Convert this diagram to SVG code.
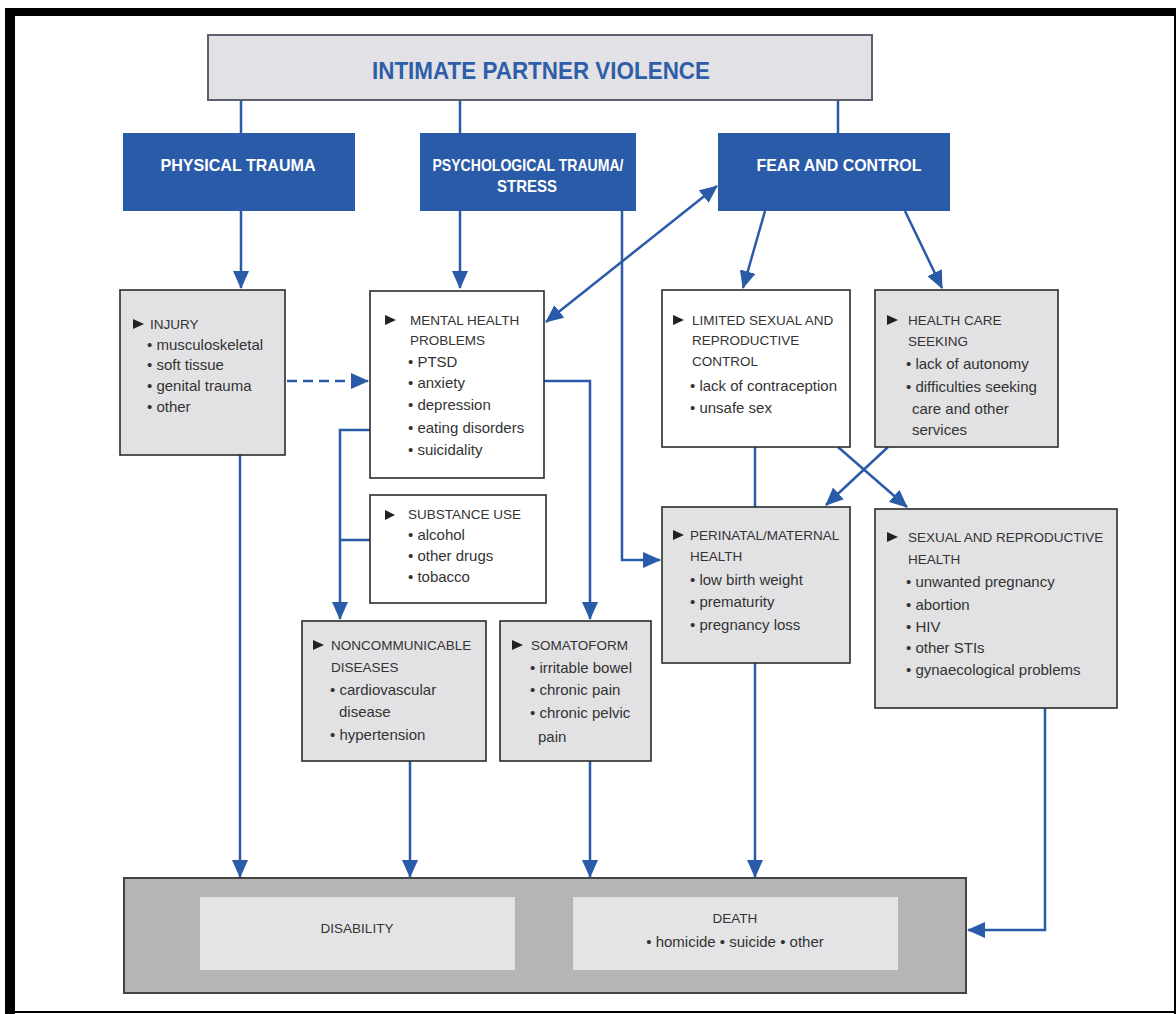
<svg xmlns="http://www.w3.org/2000/svg" width="1176" height="1014" viewBox="0 0 1176 1014">
<style>
.bx{fill:#e2e2e4;stroke:#2b2b2b;stroke-width:1.6}
.wb{fill:#ffffff;stroke:#2b2b2b;stroke-width:1.6}
.blue{fill:#2a5ba8}
.hd{font-family:"Liberation Sans",sans-serif;font-size:13.5px;fill:#333}
.tx{font-family:"Liberation Sans",sans-serif;font-size:15px;fill:#333}
.bt{font-family:"Liberation Sans",sans-serif;font-size:17px;font-weight:bold;fill:#fff}
.ln{fill:none;stroke:#2a5ba8;stroke-width:2.5}
.tri{fill:#222}
</style>
<defs>
<marker id="ah" markerUnits="userSpaceOnUse" markerWidth="18" markerHeight="16" refX="17" refY="8" orient="auto-start-reverse">
<path d="M0,0 L18,8 L0,16 z" fill="#2a5ba8"/>
</marker>
</defs>
<rect x="0" y="0" width="1176" height="1014" fill="#fff"/>
<g id="frame">
<rect x="5" y="8" width="1171" height="8" fill="#000"/>
<rect x="5" y="8" width="10" height="1006" fill="#000"/>
<rect x="15" y="1011" width="1161" height="2" fill="#000"/>
<rect x="1174" y="8" width="2" height="1006" fill="#000"/>
</g>
<g id="connectors">
<line class="ln" x1="241" y1="100" x2="241" y2="133"/>
<line class="ln" x1="460" y1="100" x2="460" y2="133"/>
<line class="ln" x1="838" y1="100" x2="838" y2="133"/>
<line class="ln" x1="241" y1="211" x2="241" y2="288" marker-end="url(#ah)"/>
<line class="ln" x1="460" y1="211" x2="460" y2="288" marker-end="url(#ah)"/>
<line class="ln" x1="765" y1="211" x2="743" y2="288" marker-end="url(#ah)"/>
<line class="ln" x1="905" y1="211" x2="942" y2="288" marker-end="url(#ah)"/>
<line class="ln" x1="546" y1="322" x2="717" y2="186" marker-start="url(#ah)" marker-end="url(#ah)"/>
<line class="ln" x1="287" y1="381" x2="368" y2="381" stroke-dasharray="10,6" marker-end="url(#ah)"/>
<polyline class="ln" points="622,211 622,560 660,560" marker-end="url(#ah)"/>
<polyline class="ln" points="370,430 340,430 340,619" marker-end="url(#ah)"/>
<line class="ln" x1="370" y1="540" x2="340" y2="540"/>
<polyline class="ln" points="544,381 590,381 590,619" marker-end="url(#ah)"/>
<line class="ln" x1="838" y1="447" x2="907" y2="507" marker-end="url(#ah)"/>
<line class="ln" x1="888" y1="447" x2="826" y2="505" marker-end="url(#ah)"/>
<line class="ln" x1="755" y1="447" x2="755" y2="507"/>
<line class="ln" x1="240" y1="455" x2="240" y2="877" marker-end="url(#ah)"/>
<line class="ln" x1="410" y1="761" x2="410" y2="877" marker-end="url(#ah)"/>
<line class="ln" x1="590" y1="761" x2="590" y2="877" marker-end="url(#ah)"/>
<line class="ln" x1="755" y1="663" x2="755" y2="877" marker-end="url(#ah)"/>
<polyline class="ln" points="1045,708 1045,930 968,930" marker-end="url(#ah)"/>
</g>
<g id="ipv">
<rect x="208" y="35" width="664" height="65" fill="#e2e2e6" stroke="#5a6070" stroke-width="2"/>
<text x="541" y="79" text-anchor="middle" font-family="Liberation Sans,sans-serif" font-size="23" font-weight="bold" fill="#2f5ea8" textLength="338" lengthAdjust="spacingAndGlyphs">INTIMATE PARTNER VIOLENCE</text>
</g>
<g id="physical">
<rect class="blue" x="123" y="133" width="232" height="78"/>
<text class="bt" x="238" y="171" text-anchor="middle" textLength="155" lengthAdjust="spacingAndGlyphs">PHYSICAL TRAUMA</text>
</g>
<g id="psych">
<rect class="blue" x="420" y="133" width="216" height="78"/>
<text class="bt" x="528" y="171" text-anchor="middle" textLength="191" lengthAdjust="spacingAndGlyphs">PSYCHOLOGICAL TRAUMA/</text>
<text class="bt" x="527" y="192" text-anchor="middle" textLength="60" lengthAdjust="spacingAndGlyphs">STRESS</text>
</g>
<g id="fear">
<rect class="blue" x="718" y="133" width="232" height="78"/>
<text class="bt" x="839" y="171" text-anchor="middle" textLength="165" lengthAdjust="spacingAndGlyphs">FEAR AND CONTROL</text>
</g>
<g id="injury">
<rect class="bx" x="120" y="290" width="165" height="165"/>
<path class="tri" d="M133,319 L144,324 L133,329 z"/>
<text class="hd" x="150" y="329">INJURY</text>
<text class="tx" x="147" y="350">• musculoskeletal</text>
<text class="tx" x="147" y="370">• soft tissue</text>
<text class="tx" x="147" y="391">• genital trauma</text>
<text class="tx" x="147" y="412">• other</text>
</g>
<g id="mental">
<rect class="wb" x="370" y="291" width="174" height="187"/>
<path class="tri" d="M385,315 L396,320 L385,325 z"/>
<text class="hd" x="410" y="325">MENTAL HEALTH</text>
<text class="hd" x="410" y="345">PROBLEMS</text>
<text class="tx" x="408" y="367">• PTSD</text>
<text class="tx" x="408" y="388">• anxiety</text>
<text class="tx" x="408" y="410">• depression</text>
<text class="tx" x="408" y="433">• eating disorders</text>
<text class="tx" x="408" y="455">• suicidality</text>
</g>
<g id="substance">
<rect class="wb" x="370" y="495" width="176" height="108"/>
<path class="tri" d="M385,510 L395,515 L385,520 z"/>
<text class="hd" x="408" y="519" font-size="12">SUBSTANCE USE</text>
<text class="tx" x="408" y="540">• alcohol</text>
<text class="tx" x="408" y="561">• other drugs</text>
<text class="tx" x="408" y="582">• tobacco</text>
</g>
<g id="ncd">
<rect class="bx" x="302" y="621" width="184" height="140"/>
<path class="tri" d="M313,640 L324,645 L313,650 z"/>
<text class="hd" x="331" y="650">NONCOMMUNICABLE</text>
<text class="hd" x="331" y="672">DISEASES</text>
<text class="tx" x="330" y="695">• cardiovascular</text>
<text class="tx" x="339" y="717">disease</text>
<text class="tx" x="330" y="740">• hypertension</text>
</g>
<g id="somatoform">
<rect class="bx" x="500" y="621" width="151" height="140"/>
<path class="tri" d="M512,640 L523,645 L512,650 z"/>
<text class="hd" x="531" y="650">SOMATOFORM</text>
<text class="tx" x="530" y="673">• irritable bowel</text>
<text class="tx" x="530" y="695">• chronic pain</text>
<text class="tx" x="530" y="718">• chronic pelvic</text>
<text class="tx" x="538" y="742">pain</text>
</g>
<g id="limited">
<rect class="wb" x="662" y="290" width="188" height="157"/>
<path class="tri" d="M673,315 L684,320 L673,325 z"/>
<text class="hd" x="692" y="325">LIMITED SEXUAL AND</text>
<text class="hd" x="692" y="345">REPRODUCTIVE</text>
<text class="hd" x="692" y="366">CONTROL</text>
<text class="tx" x="690" y="391">• lack of contraception</text>
<text class="tx" x="690" y="413">• unsafe sex</text>
</g>
<g id="healthcare">
<rect class="bx" x="875" y="290" width="183" height="157"/>
<path class="tri" d="M887,315 L898,320 L887,325 z"/>
<text class="hd" x="908" y="325">HEALTH CARE</text>
<text class="hd" x="908" y="346">SEEKING</text>
<text class="tx" x="906" y="369">• lack of autonomy</text>
<text class="tx" x="906" y="392">• difficulties seeking</text>
<text class="tx" x="912" y="414">care and other</text>
<text class="tx" x="912" y="435">services</text>
</g>
<g id="perinatal">
<rect class="bx" x="662" y="507" width="188" height="156"/>
<path class="tri" d="M673,530 L684,535 L673,540 z"/>
<text class="hd" x="690" y="540">PERINATAL/MATERNAL</text>
<text class="hd" x="690" y="561">HEALTH</text>
<text class="tx" x="690" y="585">• low birth weight</text>
<text class="tx" x="690" y="607">• prematurity</text>
<text class="tx" x="690" y="630">• pregnancy loss</text>
</g>
<g id="sexual">
<rect class="bx" x="875" y="509" width="242" height="199"/>
<path class="tri" d="M887,532 L898,537 L887,542 z"/>
<text class="hd" x="908" y="542">SEXUAL AND REPRODUCTIVE</text>
<text class="hd" x="908" y="564">HEALTH</text>
<text class="tx" x="906" y="587">• unwanted pregnancy</text>
<text class="tx" x="906" y="610">• abortion</text>
<text class="tx" x="906" y="632">• HIV</text>
<text class="tx" x="906" y="653">• other STIs</text>
<text class="tx" x="906" y="675">• gynaecological problems</text>
</g>
<g id="outcomes">
<rect x="124" y="878" width="842" height="115" fill="#b5b5b8" stroke="#444" stroke-width="2"/>
</g>
<g id="disability">
<rect x="200" y="897" width="315" height="73" fill="#e4e4e6"/>
<text class="hd" x="357" y="933" text-anchor="middle">DISABILITY</text>
</g>
<g id="death">
<rect x="573" y="897" width="325" height="73" fill="#e4e4e6"/>
<text class="hd" x="735" y="923" text-anchor="middle">DEATH</text>
<text class="tx" x="735" y="947" text-anchor="middle">• homicide  • suicide  • other</text>
</g>
</svg>
